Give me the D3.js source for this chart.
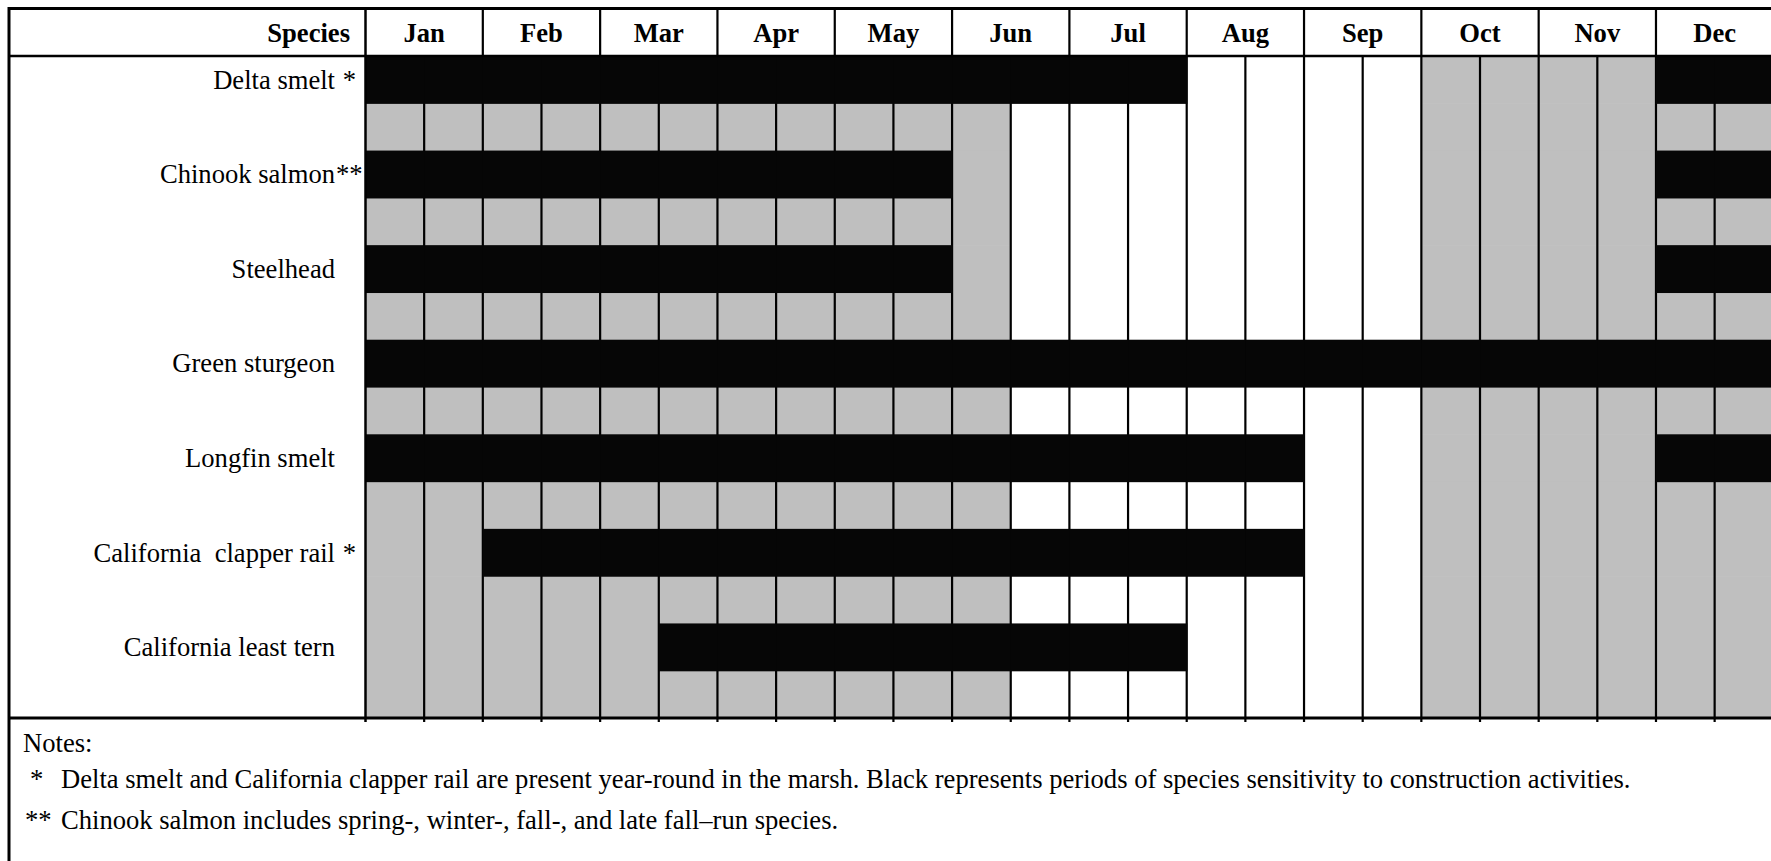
<!DOCTYPE html>
<html>
<head>
<meta charset="utf-8">
<script src="https://cdn.jsdelivr.net/npm/d3@7"></script>
<style>
  body { margin: 0; background: #fff; }
  text { font-family: "Liberation Serif", "Times New Roman", "DejaVu Serif", serif; fill: #000; white-space: pre; }
</style>
</head>
<body>
<div id="chart"></div>
<script>
// Species sensitivity calendar ------------------------------------------------------------

var months = ["Jan", "Feb", "Mar", "Apr", "May", "Jun", "Jul", "Aug", "Sep", "Oct", "Nov", "Dec"];

var species = ["Delta smelt", "Chinook salmon", "Steelhead", "Green sturgeon",
  "Longfin smelt", "California  clapper rail", "California least tern"];
var speciesMarks = [" *", "**", "", "", "", " *", ""];

// one character per half month: 2 = sensitive (black), 1 = present (gray), 0 = absent (white)
var sensitiveRows = [
  "222222222222220000111122",
  "222222222210000000111122",
  "222222222210000000111122",
  "222222222222222222222222",
  "222222222222222200111122",
  "112222222222222200111111",
  "111112222222220000111111"
];
var presenceRows = [
  "111111111110000000111111",
  "111111111110000000111111",
  "111111111110000000111111",
  "111111111110000000111111",
  "111111111110000000111111",
  "111111111110000000111111",
  "111111111110000000111111"
];

var noteLines = [
  {mark: "*", text: "Delta smelt and California clapper rail are present year-round in the marsh. Black represents periods of species sensitivity to construction activities."},
  {mark: "**", text: "Chinook salmon includes spring-, winter-, fall-, and late fall\u2013run species."}
];

function drawCalendar() {
  var width = 1771, height = 861;
  var left = 9, top = 8.5, headerBottom = 56, gridLeft = 365.5, gridRight = 1773.3, gridBottom = 718;
  var fontSize = 26.6;
  var color = {"0": "#ffffff", "1": "#bfbfbf", "2": "#060606"};

  var svg = d3.select("#chart").append("svg")
    .attr("width", width)
    .attr("height", height)
    .attr("font-family", "'Liberation Serif', 'Times New Roman', serif");

  svg.append("rect")
    .attr("width", width)
    .attr("height", height)
    .attr("fill", "#fff");

  var x = d3.scaleLinear().domain([0, 24]).range([gridLeft, gridRight]);
  var xMonth = d3.scaleBand().domain(months).range([gridLeft, gridRight]);

  // two sub rows per species: sensitivity then presence
  var rows = [];
  species.forEach(function(s, i) {
    rows.push(sensitiveRows[i]);
    rows.push(presenceRows[i]);
  });
  var y = d3.scaleBand().domain(d3.range(rows.length)).range([headerBottom, gridBottom]);

  var cells = [];
  rows.forEach(function(r, ri) {
    r.split("").forEach(function(c, hi) {
      cells.push({row: ri, half: hi, state: c});
    });
  });

  function drawCells(g, data) {
    g.selectAll("rect")
      .data(data)
      .enter()
      .append("rect")
      .attr("x", function(d) { return x(d.half); })
      .attr("y", function(d) { return y(d.row); })
      .attr("width", x(1) - x(0) + 0.6)
      .attr("height", y.bandwidth() + 0.6)
      .attr("fill", function(d) { return color[d.state]; });
  }

  drawCells(svg.append("g"), cells.filter(function(d) { return d.state !== "2"; }));

  // half-month grid lines
  svg.append("g").selectAll("line")
    .data(d3.range(1, 24))
    .enter()
    .append("line")
    .attr("x1", function(d) { return x(d); })
    .attr("x2", function(d) { return x(d); })
    .attr("y1", function(d) { return d % 2 === 0 ? top : headerBottom; })
    .attr("y2", gridBottom + 4)
    .attr("stroke", "#000")
    .attr("stroke-width", 2.2);

  // black bars sit over the grid lines
  drawCells(svg.append("g"), cells.filter(function(d) { return d.state === "2"; }));

  // frame
  var frame = svg.append("g").attr("stroke", "#000");
  frame.append("line").attr("x1", left).attr("x2", width).attr("y1", top).attr("y2", top).attr("stroke-width", 3);
  frame.append("line").attr("x1", left).attr("x2", width).attr("y1", headerBottom).attr("y2", headerBottom).attr("stroke-width", 2.5);
  frame.append("line").attr("x1", left).attr("x2", width).attr("y1", gridBottom).attr("y2", gridBottom).attr("stroke-width", 3);
  frame.append("line").attr("x1", left).attr("x2", left).attr("y1", top - 1.5).attr("y2", height).attr("stroke-width", 3);
  frame.append("line").attr("x1", gridLeft).attr("x2", gridLeft).attr("y1", top).attr("y2", gridBottom + 4).attr("stroke-width", 2.5);

  // header
  var header = svg.append("g")
    .attr("font-size", fontSize)
    .attr("font-weight", "bold");

  header.append("text")
    .attr("x", 350)
    .attr("y", 42)
    .attr("text-anchor", "end")
    .text("Species");

  header.selectAll(".month")
    .data(months)
    .enter()
    .append("text")
    .attr("class", "month")
    .attr("x", function(d) { return xMonth(d) + xMonth.bandwidth() / 2; })
    .attr("y", 42)
    .attr("text-anchor", "middle")
    .text(function(d) { return d; });

  // species labels, centred on the sensitivity row
  var labels = svg.append("g").attr("font-size", fontSize);

  labels.selectAll(".label")
    .data(species)
    .enter()
    .append("text")
    .attr("class", "label")
    .attr("x", 335)
    .attr("y", function(d, i) { return y(i * 2) + y.bandwidth() / 2 + 9; })
    .attr("text-anchor", "end")
    .text(function(d) { return d; });

  labels.selectAll(".mark")
    .data(speciesMarks)
    .enter()
    .append("text")
    .attr("class", "mark")
    .attr("x", 336)
    .attr("y", function(d, i) { return y(i * 2) + y.bandwidth() / 2 + 9; })
    .text(function(d) { return d; });

  // notes
  var notes = svg.append("g").attr("font-size", fontSize);

  notes.append("text")
    .attr("x", 23)
    .attr("y", 752)
    .text("Notes:");

  var noteY = d3.scaleLinear().domain([0, 1]).range([788, 829]);

  notes.selectAll(".noteMark")
    .data(noteLines)
    .enter()
    .append("text")
    .attr("class", "noteMark")
    .attr("x", function(d) { return d.mark.length > 1 ? 25 : 30; })
    .attr("y", function(d, i) { return noteY(i); })
    .text(function(d) { return d.mark; });

  notes.selectAll(".noteText")
    .data(noteLines)
    .enter()
    .append("text")
    .attr("class", "noteText")
    .attr("x", 61)
    .attr("y", function(d, i) { return noteY(i); })
    .text(function(d) { return d.text; });
}

drawCalendar();
</script>
</body>
</html>
